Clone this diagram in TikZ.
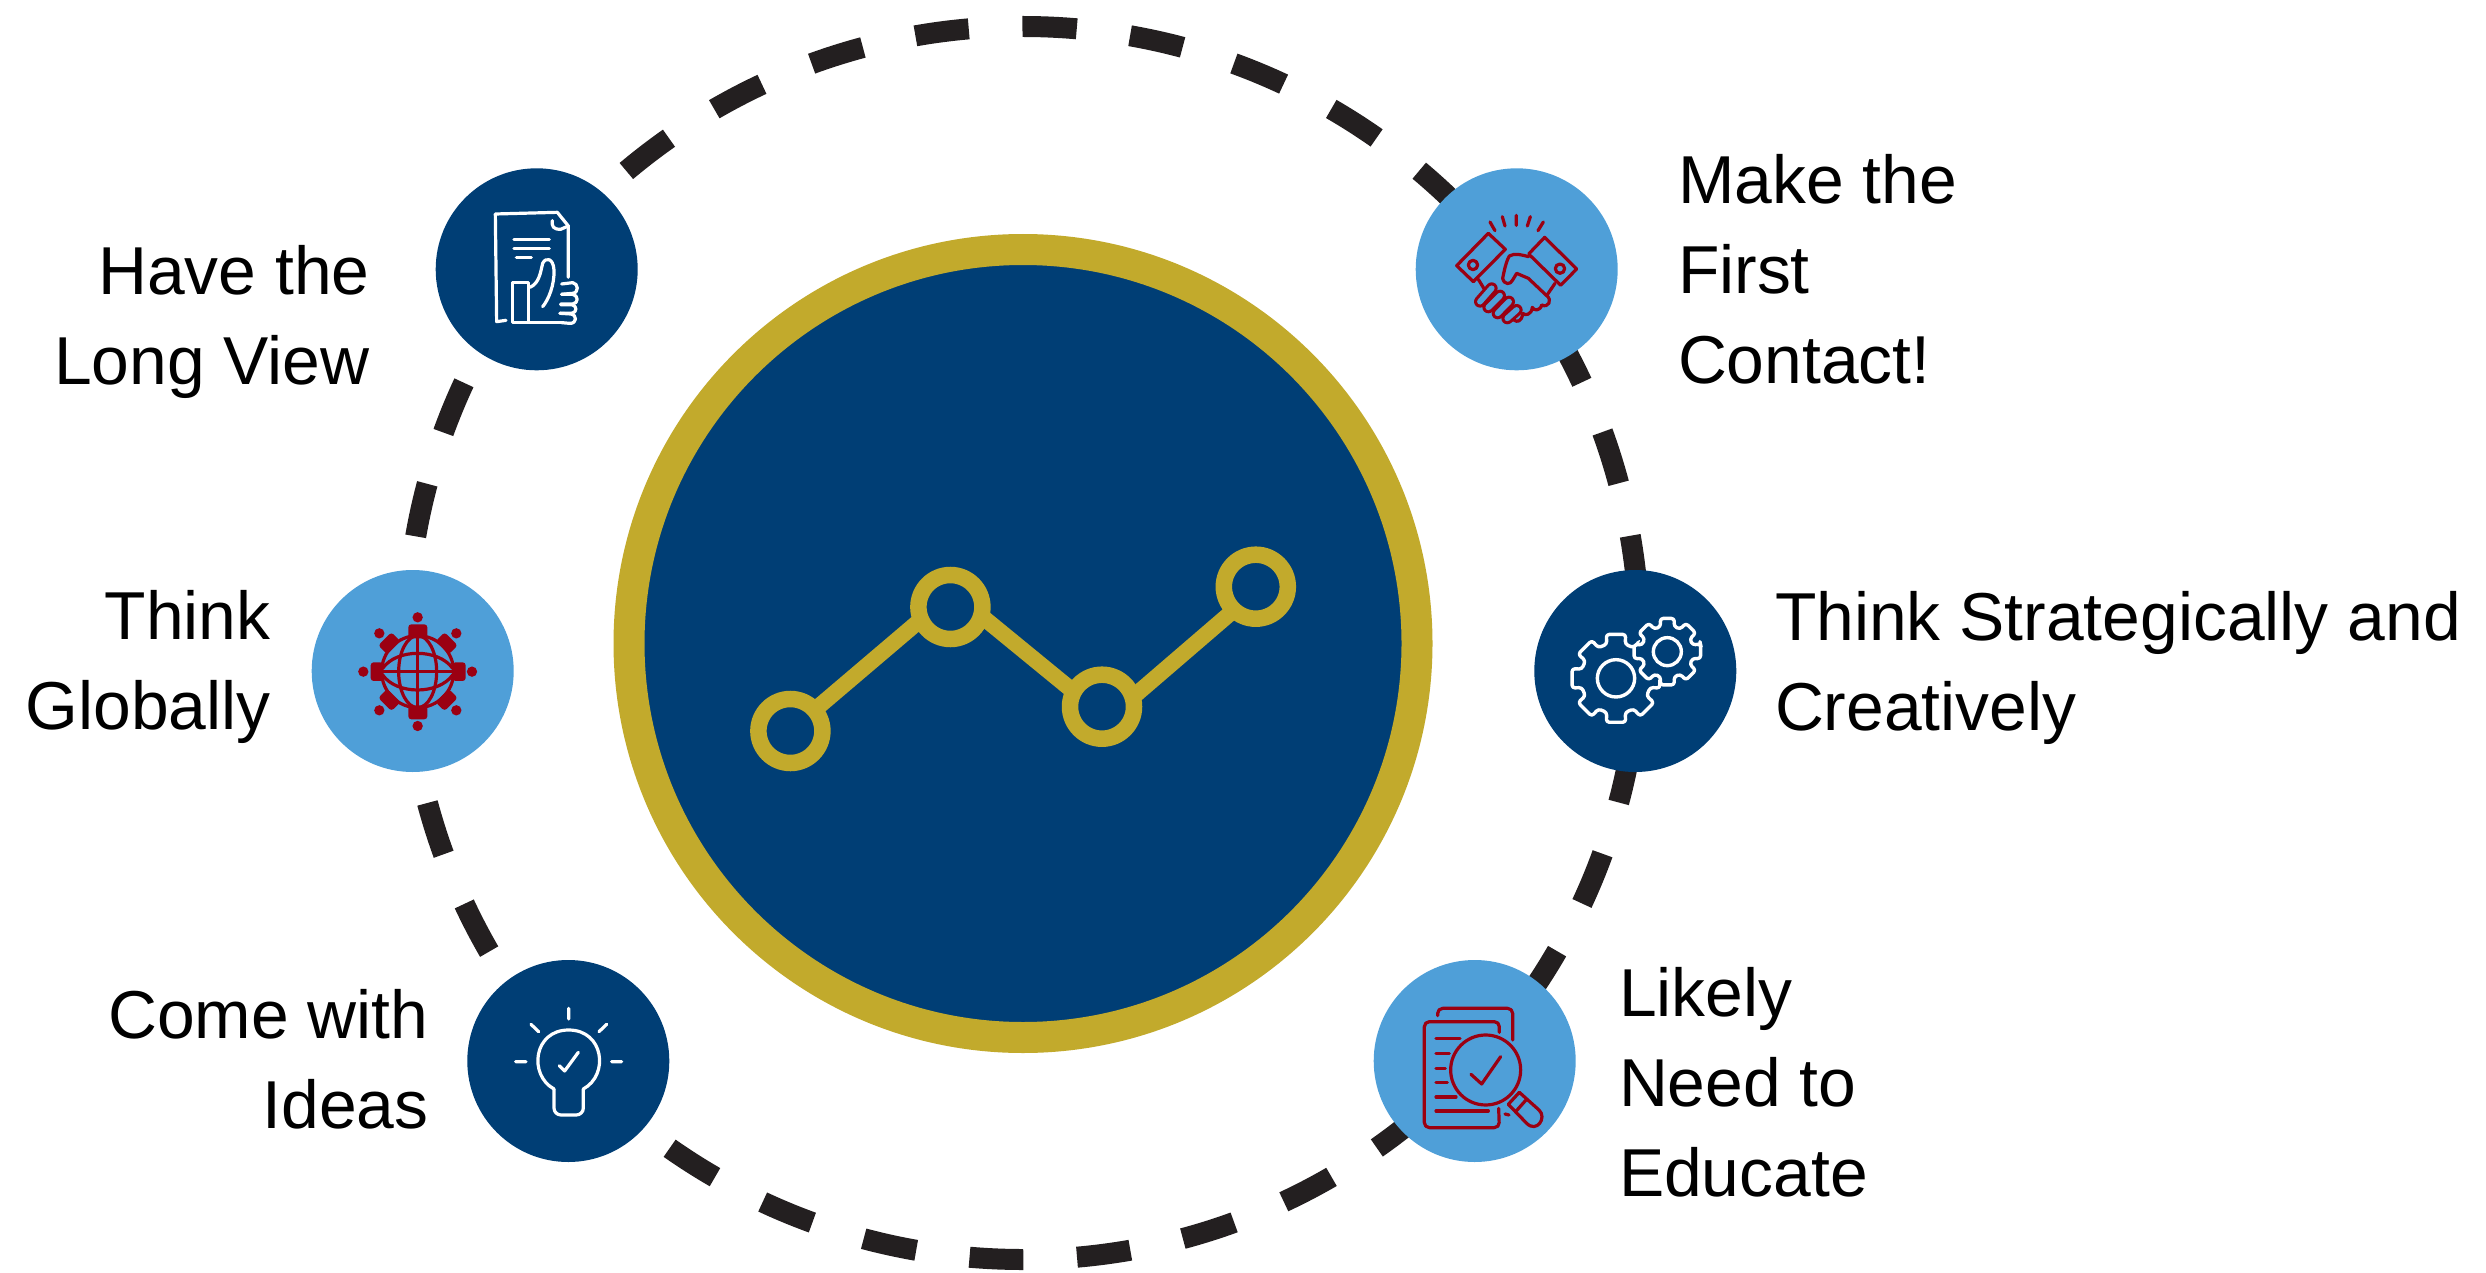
\documentclass[tikz,border=0pt]{standalone}
\usepackage{fontspec}
\setmainfont{Liberation Sans}
\definecolor{navy}{HTML}{003E75}
\definecolor{sky}{HTML}{4F9FD8}
\definecolor{gold}{HTML}{C2AA2C}
\definecolor{wine}{HTML}{9B0012}
\definecolor{dashink}{HTML}{231F20}
\tikzset{
  caption/.style={inner sep=0pt,outer sep=0pt,font=\fontsize{67.8}{90}\selectfont,text=black},
  capL/.style={caption,anchor=north west,align=left},
  capR/.style={caption,anchor=north east,align=right},
  badge/.style={circle,inner sep=0pt,minimum size=202pt},
  navybadge/.style={badge,fill=navy},
  skybadge/.style={badge,fill=sky},
  hub/.style={circle,inner sep=0pt,outer sep=0pt,minimum size=788pt,fill=navy,draw=gold,line width=31pt},
  chartdot/.style={circle,inner sep=0pt,outer sep=0pt,minimum size=64pt,draw=gold,line width=16.5pt},
  chartline/.style={draw=gold,line width=16pt},
  orbit/.style={draw=dashink,line width=21pt,dash pattern=on 53.8pt off 53.8pt},
  iconw/.style={draw=white,line width=3.2pt,line cap=round,line join=round},
  iconr/.style={draw=wine,line width=3.2pt,line cap=round,line join=round},
}
\newcommand{\firstline}{\rule{0pt}{50pt}}
\begin{document}
\begin{tikzpicture}[x=1pt,y=-1pt]
\useasboundingbox (0,0) rectangle (2486,1273);
% dashed orbit
\draw[orbit] (1023,26.5) arc[start angle=90,end angle=-270,radius=616.5pt];
% hub
\node[hub] (centre) at (1023,643.5) {};
% chart
\node[chartdot] (p1) at (790.4,731) {};
\node[chartdot] (p2) at (950.4,607) {};
\node[chartdot] (p3) at (1102,706.7) {};
\node[chartdot] (p4) at (1255.8,586.7) {};
\draw[chartline] (p1.41) -- (p2.203);
\draw[chartline] (p2.-16) -- (p3.152);
\draw[chartline] (p3.17) -- (p4.227);
% badges
\node[navybadge] (longview) at (536.7,269.3) {};
\node[skybadge] (contact) at (1516.7,269.3) {};
\node[skybadge] (globe) at (412.7,671) {};
\node[navybadge] (gears) at (1635.3,671) {};
\node[navybadge] (ideas) at (568.3,1061) {};
\node[skybadge] (educate) at (1474.7,1061) {};
% captions
\node[capR] (t1) at (369.5,244) {\firstline Have the\\Long View};
\node[capR] (t2) at (270.5,589) {\firstline Think\\Globally};
\node[capR] (t3) at (428.5,988) {\firstline Come with\\Ideas};
\node[capL] (t4) at (1678,153) {\firstline Make the\\First\\Contact!};
\node[capL] (t5) at (1775,590.2) {\firstline Think Strategically and\\Creatively};
\node[capL] (t6) at (1619,966) {\firstline Likely\\Need to\\Educate};

% icon: document + thumb
\begin{scope}[shift={(420,150)},x=0.3333pt,y=-0.3333pt]
\draw[iconw] (258,511) -- (230,515) -- (226,192) -- (412,187) -- (445,228) -- (445,382);
\draw[iconw] (397,212) .. controls (395,230) and (400,238) .. (422,238) -- (445,228);
\draw[iconw] (282,268) -- (388,268) (282,296) -- (388,296) (289,323) -- (334,323);
\draw[iconw] (325,517) -- (278,517) -- (278,397) -- (325,397) -- (325,517) -- (430,517);
\draw[iconw] (330,412) .. controls (358,400) and (362,365) .. (368,340) .. controls (378,320) and (400,325) .. (402,360) .. controls (404,405) and (385,450) .. (368,470);
\draw[iconw] (425,402) -- (458,398) .. controls (475,400) and (478,428) .. (458,430) -- (425,433);
\draw[iconw] (425,433) -- (458,433) .. controls (476,436) and (476,460) .. (458,462) -- (422,462);
\draw[iconw] (422,464) -- (455,464) .. controls (472,466) and (472,488) .. (455,490) -- (420,490);
\draw[iconw] (420,490) -- (452,492) .. controls (472,494) and (472,522) .. (448,520) -- (425,518);
\end{scope}

% icon: handshake
\begin{scope}[shift={(1400,150)},x=0.3333pt,y=-0.3333pt]
\draw[iconr] (265,250) -- (316,298) -- (220,395) -- (170,347) -- cycle;
\draw[iconr] (434,262) -- (530,357) -- (482,406) -- (386,312) -- cycle;
\draw[iconr] (219,345) circle[radius=14];
\draw[iconr] (480,356) circle[radius=14];
\draw[iconr] (270,216) -- (285,242) (307,200) -- (315,228) (349,196) -- (349,226) (391,200) -- (382,228) (430,216) -- (414,242);
\draw[iconr] (235,388) -- (252,416) (465,400) -- (440,437);
\foreach \ax/\ay/\bx/\by in {322/505/350/480, 293/490/327/455, 265/472/300/437, 240/455/275/415}{
  \draw[draw=wine,line width=12pt,line cap=round] (\ax,\ay) -- (\bx,\by);
  \draw[draw=sky,line width=5.8pt,line cap=round] (\ax,\ay) -- (\bx,\by);
}
\draw[iconr] (386,320) .. controls (365,315) and (345,308) .. (328,318) .. controls (318,335) and (312,365) .. (308,385) .. controls (312,405) and (332,405) .. (338,390) -- (350,370) -- (385,385) -- (440,437) .. controls (458,450) and (445,475) .. (425,465) .. controls (420,485) and (400,482) .. (397,472) .. controls (395,495) and (375,498) .. (368,490);
\draw[iconr] (342,510) .. controls (350,518) and (365,515) .. (368,492);
\end{scope}

% icon: globe with people
\begin{scope}[shift={(300,555)},x=0.3333pt,y=-0.3333pt]
\def\gc{(353,350)}
\draw[iconr] \gc circle[radius=108];
\draw[iconr] \gc ellipse[x radius=57,y radius=108];
\draw[iconr] (353,242) -- (353,458) (245,350) -- (461,350);
\draw[iconr] (248,340) .. controls (290,280) and (415,280) .. (458,340);
\draw[iconr] (248,360) .. controls (290,420) and (415,420) .. (458,360);
\foreach \hx/\hy in {353/187,516/350,353/513,190/350,238/235,469/235,238/466,469/466}{
  \fill[wine] (\hx,\hy) circle[radius=15.5];
}
\fill[wine,rounded corners=3pt] (325,208) rectangle (382,250);
\fill[wine,rounded corners=3pt] (325,452) rectangle (382,493);
\fill[wine,rounded corners=3pt] (212,322) rectangle (250,378);
\fill[wine,rounded corners=3pt] (458,322) rectangle (497,378);
\foreach \cx/\cy/\ang in {268/265/45,440/265/-45,268/435/-45,440/435/45}{
  \begin{scope}[shift={(\cx,\cy)},rotate=\ang]
  \fill[wine,rounded corners=3pt] (-28,-19) rectangle (28,19);
  \end{scope}
}
\end{scope}

% icon: gears
\begin{scope}[shift={(1530,555)},x=0.3333pt,y=-0.3333pt]
\draw[draw=white,line width=3.4pt,rounded corners=3pt,line join=round,shift={(258,370)}]
  (-12:135)
  \foreach \a in {0,45,...,315}{ -- (\a-12.5:135) -- (\a+12.5:135) -- (\a+15:106) -- (\a+30:106) } -- cycle;
\draw[draw=white,line width=3.4pt] (258,370) circle[radius=56];
\path[fill=navy,shift={(412,290)}] (0,0) circle[radius=88];
\draw[draw=white,line width=3.4pt,rounded corners=3pt,line join=round,fill=navy,shift={(412,290)}]
  (-13:102)
  \foreach \a in {0,45,...,315}{ -- (\a-12:102) -- (\a+12:102) -- (\a+15:78) -- (\a+30:78) } -- cycle;
\draw[draw=white,line width=3.4pt] (412,290) circle[radius=42];
\end{scope}

% icon: bulb
\begin{scope}[shift={(450,945)},x=0.3333pt,y=-0.3333pt]
\draw[iconw] (312,432) .. controls (235,390) and (250,255) .. (356,255) .. controls (462,255) and (478,390) .. (400,432);
\draw[iconw,rounded corners=7pt] (312,432) -- (312,510) -- (400,510) -- (400,432);
\draw[iconw] (356,190) -- (356,222) (243,238) -- (266,260) (470,238) -- (447,260) (197,350) -- (228,350) (485,350) -- (515,350);
\draw[iconw] (328,362) -- (344,378) -- (385,322);
\end{scope}

% icon: document + magnifier
\begin{scope}[shift={(1360,945)},x=0.3333pt,y=-0.3333pt]
\draw[iconr,rounded corners=5pt] (233,212) -- (233,190) -- (458,190) -- (458,285);
\draw[iconr,rounded corners=5pt] (418,262) -- (418,230) -- (193,230) -- (193,548) -- (418,548) -- (416,490);
\draw[iconr] (228,281) -- (300,281) (228,326) -- (268,326) (228,370) -- (256,370) (228,412) -- (262,412) (228,456) -- (288,456) (228,498) -- (385,498);
\draw[iconr] (377,375) circle[radius=105];
\draw[iconr] (333,388) -- (365,417) -- (422,335);
\draw[iconr] (445,478) -- (478,442) -- (537,495) .. controls (562,518) and (530,565) .. (500,535) -- cycle;
\draw[iconr] (467,500) -- (498,465);
\draw[iconr] (435,507) -- (447,510);
\end{scope}
\end{tikzpicture}
\end{document}
